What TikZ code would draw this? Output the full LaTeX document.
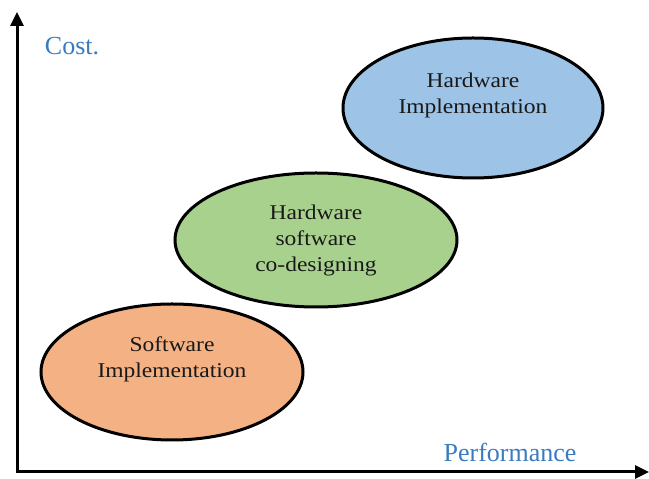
\documentclass[tikz,border=0pt]{standalone}
\usepackage{fontspec}
\setmainfont{Liberation Serif}
\newfontfamily\camfont[FakeStretch=1.12]{Liberation Serif}
\usetikzlibrary{shapes.geometric,arrows.meta}
\definecolor{swfill}{HTML}{F4B183}
\definecolor{cofill}{HTML}{A9D18E}
\definecolor{hwfill}{HTML}{9DC3E6}
\definecolor{axlabel}{HTML}{3A7BC0}
\begin{document}
\begin{tikzpicture}[x=1pt,y=1pt,
  blob/.style={ellipse,draw=black,line width=3pt,inner sep=0pt},
  blobtext/.style={font=\camfont\fontsize{21}{26}\selectfont,align=center,text=black!90},
  axis/.style={line width=3pt,-{Triangle[length=14pt,width=13pt]}},
  axlab/.style={font=\fontsize{26}{30}\selectfont,text=axlabel}]
\useasboundingbox (0,0) rectangle (649,479);
% ellipses (y = 479 - pixel y)
\node[blob,fill=swfill,minimum width=262pt,minimum height=136pt] (sw) at (172,107) {};
\node[blob,fill=cofill,minimum width=282pt,minimum height=134pt] (co) at (316,239) {};
\node[blob,fill=hwfill,minimum width=260pt,minimum height=140pt] (hw) at (473,371) {};
\node[blobtext] (swt) at (172,120) {Software\\Implementation};
\node[blobtext] (cot) at (316,239) {Hardware\\software\\co-designing};
\node[blobtext] (hwt) at (473,384) {Hardware\\Implementation};
% axes
\coordinate (o) at (17,7);
\coordinate (ytop) at (17,467);
\coordinate (xend) at (649,7);
\draw[axis] (o) -- (ytop);
\draw[axis] ([xshift=-1.5pt]o) -- (xend);
\node[axlab] (cost) at (72,433) {Cost.};
\node[axlab] (perf) at (510,27) {Performance};
\end{tikzpicture}
\end{document}
